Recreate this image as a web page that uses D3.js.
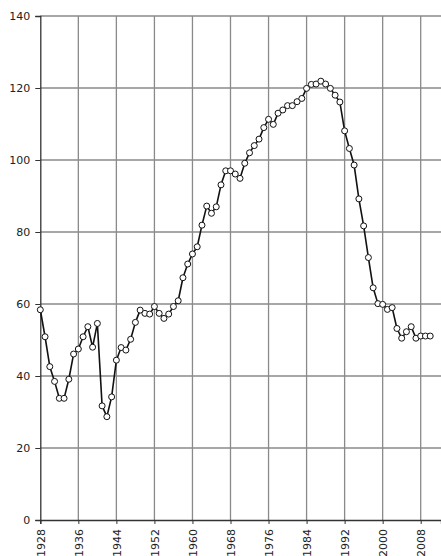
<!DOCTYPE html>
<html>
<head>
<meta charset="utf-8">
<script src="https://cdn.jsdelivr.net/npm/d3@7"></script>
<style>
  html, body { margin: 0; padding: 0; background: #fff; }
  svg { display: block; }
  text { font-family: "DejaVu Sans", Verdana, sans-serif; font-size: 11px; fill: #222; }
</style>
</head>
<body>
<svg id="chart" width="441" height="556"></svg>
<script>
const years = d3.range(1928, 2011);
const values = [
  58.4, 50.9, 42.6, 38.5, 33.8, 33.8, 39.1, 46.1, 47.5, 50.9,
  53.7, 48.0, 54.6, 31.7, 28.7, 34.2, 44.4, 47.9, 47.2, 50.2,
  54.9, 58.3, 57.4, 57.2, 59.3, 57.4, 56.0, 57.2, 59.3, 60.9,
  67.3, 71.1, 73.9, 75.9, 81.9, 87.2, 85.2, 87.0, 93.1, 97.0,
  97.0, 96.1, 94.9, 99.1, 102.0, 104.0, 105.8, 109.0, 111.3, 109.9,
  113.0, 113.9, 115.1, 115.1, 116.2, 117.1, 119.9, 121.0, 121.1, 121.9,
  121.1, 119.9, 118.0, 116.1, 108.1, 103.2, 98.6, 89.2, 81.7, 72.9,
  64.5, 60.1, 59.9, 58.5, 59.0, 53.2, 50.5, 52.3, 53.7, 50.5,
  51.1, 51.1, 51.1
];
const xTicks = [1928, 1936, 1944, 1952, 1960, 1968, 1976, 1984, 1992, 2000, 2008];
const yTicks = [0, 20, 40, 60, 80, 100, 120, 140];

const data = years.map((yr, i) => ({ year: yr, value: values[i] }));

const svg = d3.select("#chart");
const mLeft = 40.3, mRight = 441, mTop = 16, mBottom = 520;

const x = d3.scaleLinear().domain([1928, 1928 + (mRight - mLeft) / 4.755]).range([mLeft, mRight]);
const y = d3.scaleLinear().domain([0, 140]).range([mBottom, mTop]);

// gridlines
const grid = svg.append("g");
grid.selectAll("line.h").data(yTicks.filter(d => d > 0)).join("line")
  .attr("x1", mLeft).attr("x2", mRight)
  .attr("y1", d => y(d)).attr("y2", d => y(d))
  .attr("stroke", "#8a8a8a").attr("stroke-width", 1.3);
grid.selectAll("line.v").data(xTicks.filter(d => d > 1928)).join("line")
  .attr("x1", d => x(d)).attr("x2", d => x(d))
  .attr("y1", mTop).attr("y2", mBottom)
  .attr("stroke", "#8a8a8a").attr("stroke-width", 1.3);

// axes
const yAxis = d3.axisLeft(y).tickValues(yTicks).tickSize(5).tickPadding(5);
const gy = svg.append("g").attr("transform", `translate(${mLeft},0)`).call(yAxis);
gy.select(".domain").attr("stroke", "#333").attr("stroke-width", 1.3);
gy.selectAll(".tick line").attr("stroke", "#333");
gy.selectAll("text").style("font-size", "11px").style("fill", "#222");

const xAxis = d3.axisBottom(x).tickValues(xTicks).tickFormat(d3.format("d")).tickSize(4);
const gx = svg.append("g").attr("transform", `translate(0,${mBottom})`).call(xAxis);
gx.select(".domain").attr("stroke", "#333").attr("stroke-width", 1.3);
gx.selectAll(".tick line").attr("stroke", "#333");
gx.selectAll("text")
  .attr("transform", "rotate(-90)")
  .attr("x", -9).attr("y", 0).attr("dy", "0.35em")
  .attr("text-anchor", "end")
  .style("font-size", "11px").style("fill", "#222");

// line
const line = d3.line().x(d => x(d.year)).y(d => y(d.value));
svg.append("path").datum(data)
  .attr("d", line)
  .attr("fill", "none").attr("stroke", "#111").attr("stroke-width", 1.6)
  .attr("stroke-linejoin", "round");

// markers
svg.append("g").selectAll("circle").data(data).join("circle")
  .attr("cx", d => x(d.year)).attr("cy", d => y(d.value))
  .attr("r", 3)
  .attr("fill", "#fff").attr("stroke", "#111").attr("stroke-width", 1);
</script>
</body>
</html>
